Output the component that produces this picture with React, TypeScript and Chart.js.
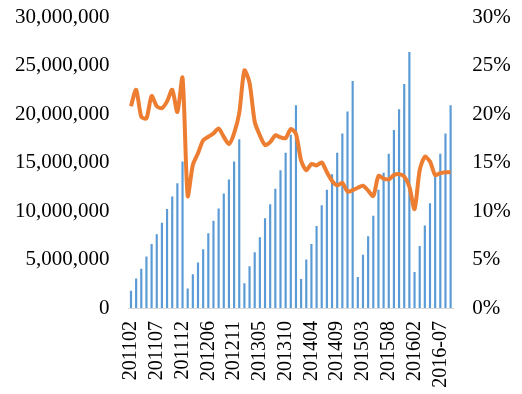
import React, { useEffect, useRef } from "react";
import { Chart, registerables } from "chart.js";

Chart.register(...registerables);

const categories: string[] = [
  "201102", "201103", "201104", "201105", "201106", "201107", "201108", "201109", "201110", "201111", "201112",
  "201202", "201203", "201204", "201205", "201206", "201207", "201208", "201209", "201210", "201211", "201212",
  "201302", "201303", "201304", "201305", "201306", "201307", "201308", "201309", "201310", "201311", "201312",
  "201402", "201403", "201404", "201405", "201406", "201407", "201408", "201409", "201410", "201411", "201412",
  "201502", "201503", "201504", "201505", "201506", "201507", "201508", "201509", "201510", "201511", "201512",
  "201602", "201603", "201604", "201605", "201606", "2016-07", "201608", "201609",
];

// cumulative volume (bars, left axis)
const volume: number[] = [
  1780000, 3050000, 4050000, 5300000, 6600000, 7600000, 8800000, 10200000, 11500000, 12850000, 15100000,
  2000000, 3470000, 4700000, 6050000, 7700000, 9000000, 10250000, 11800000, 13250000, 15100000, 17400000,
  2550000, 4300000, 5750000, 7300000, 9250000, 10700000, 12300000, 14200000, 16000000, 17850000, 20900000,
  3000000, 5000000, 6600000, 8450000, 10600000, 12200000, 13800000, 16000000, 18000000, 20250000, 23400000,
  3200000, 5500000, 7400000, 9500000, 12200000, 13950000, 15900000, 18350000, 20500000, 23100000, 26400000,
  3700000, 6400000, 8500000, 10800000, 13900000, 15900000, 18000000, 20900000,
];

// ratio (line, right axis, %)
const ratio: number[] = [
  20.8, 22.5, 19.7, 19.55, 21.85, 20.8, 20.6, 21.3, 22.5, 20.2, 23.75,
  11.55, 14.75, 15.95, 17.3, 17.65, 18.0, 18.5, 17.65, 16.9, 18.0, 20.1,
  24.5, 23.2, 19.2, 17.8, 16.8, 17.1, 17.8, 17.6, 17.5, 18.45, 17.95,
  15.2, 14.2, 14.85, 14.7, 15.0, 14.0, 13.1, 12.65, 12.9, 12.0, 12.15,
  12.4, 12.6, 12.1, 11.55, 13.6, 13.35, 13.25, 13.7, 13.8, 13.55, 12.5,
  10.2, 14.2, 15.6, 15.1, 13.7, 13.9, 14.0, 14.0,
];

const leftTicks: number[] = [0, 5000000, 10000000, 15000000, 20000000, 25000000, 30000000];
const rightTicks: number[] = [0, 5, 10, 15, 20, 25, 30];

const FONT = "'Liberation Serif', 'Times New Roman', serif";

export default function App() {
  const ref = useRef<HTMLCanvasElement | null>(null);

  useEffect(() => {
    if (!ref.current) return;
    const chart = new Chart(ref.current, {
      type: "bar",
      data: {
        labels: categories,
        datasets: [
          {
            type: "line",
            data: ratio,
            yAxisID: "y1",
            borderColor: "#ED7D31",
            backgroundColor: "#ED7D31",
            borderWidth: 4,
            pointRadius: 0,
            tension: 0.25,
            order: 0,
          } as any,
          {
            type: "bar",
            data: volume,
            yAxisID: "y",
            backgroundColor: "#5B9BD5",
            barPercentage: 0.42,
            categoryPercentage: 1,
            order: 1,
          },
        ],
      },
      options: {
        responsive: false,
        animation: false,
        layout: { padding: { top: 17, left: 0, right: 0, bottom: 0 } },
        plugins: { legend: { display: false }, tooltip: { enabled: false } },
        scales: {
          x: {
            grid: { display: false, drawTicks: false },
            border: { display: true, color: "#d9d9d9", width: 1 },
            ticks: {
              autoSkip: false,
              minRotation: 90,
              maxRotation: 90,
              padding: 13,
              color: "#000",
              font: { family: FONT, size: 20 },
              callback: (_v: any, i: number) => (i % 5 === 0 ? categories[i] : ""),
            },
            afterFit: (s: any) => {
              s.height = 86;
              s.paddingLeft = 0;
              s.paddingRight = 0;
            },
          },
          y: {
            position: "left",
            min: 0,
            max: 30000000,
            grid: { display: false, drawTicks: false },
            border: { display: false },
            afterBuildTicks: (s: any) => {
              s.ticks = leftTicks.map((v) => ({ value: v }));
            },
            ticks: {
              padding: 19,
              color: "#000",
              font: { family: FONT, size: 21 },
              callback: (v: any) => Number(v).toLocaleString("en-US"),
            },
            afterFit: (s: any) => {
              s.width = 128.4;
              s.paddingTop = 0;
              s.paddingBottom = 0;
            },
          },
          y1: {
            position: "right",
            min: 0,
            max: 30,
            grid: { display: false, drawTicks: false },
            border: { display: false },
            afterBuildTicks: (s: any) => {
              s.ticks = rightTicks.map((v) => ({ value: v }));
            },
            ticks: {
              padding: 19,
              color: "#000",
              font: { family: FONT, size: 21 },
              callback: (v: any) => v + "%",
            },
            afterFit: (s: any) => {
              s.width = 522 - 453.2;
              s.paddingTop = 0;
              s.paddingBottom = 0;
            },
          },
        },
      },
    });
    return () => chart.destroy();
  }, []);

  return (
    <div style={{ position: "absolute", left: 0, top: 0, width: 522, height: 394, background: "#fff" }}>
      <canvas ref={ref} width={522} height={394} />
    </div>
  );
}
